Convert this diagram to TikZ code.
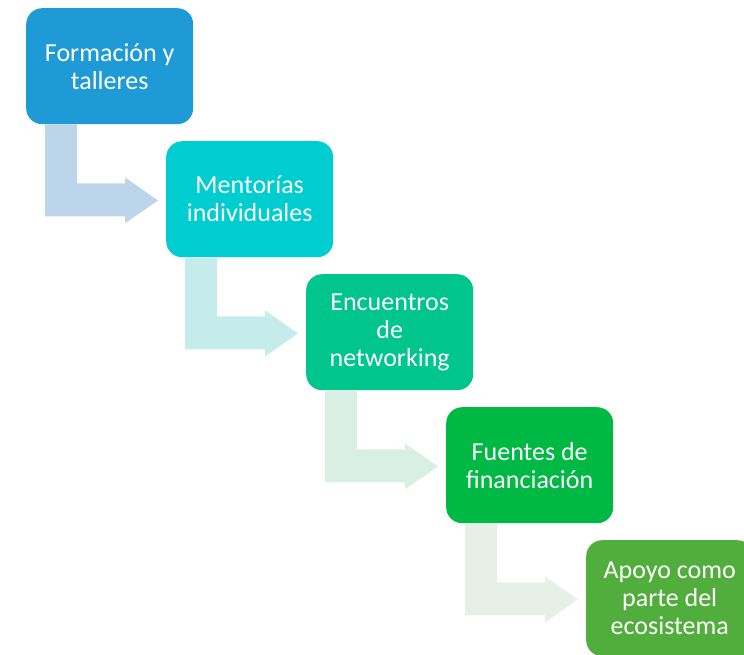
\documentclass[tikz,border=0pt]{standalone}
\usepackage{fontspec}
\setmainfont{Carlito}
\definecolor{boxA}{HTML}{1E9BD7}
\definecolor{boxB}{HTML}{00CDD0}
\definecolor{boxC}{HTML}{00C58C}
\definecolor{boxD}{HTML}{00B944}
\definecolor{boxE}{HTML}{52AE3C}
\definecolor{arrA}{HTML}{BDD5EA}
\definecolor{arrB}{HTML}{C5EBEA}
\definecolor{arrC}{HTML}{D9EFE3}
\definecolor{arrD}{HTML}{E7F0E6}
\begin{document}
\begin{tikzpicture}[x=1pt,y=-1pt,
  stage/.style={fill=#1, rounded corners=16pt, minimum width=167pt, minimum height=116pt,
    inner sep=0pt, anchor=north west, text=white, align=center,
    font=\fontsize{26}{28}\selectfont},
  bentarrow/.style={fill=#1}]
\useasboundingbox (0,0) rectangle (744,654);
\begin{scope}
\clip (0,0) rectangle (744,654);
\node[stage=boxA] (b1) at (26,8) {Formación y\\talleres};
\node[stage=boxB] (b2) at (166,141) {Mentorías\\individuales};
\node[stage=boxC] (b3) at (306,274) {Encuentros\\de\\networking};
\node[stage=boxD] (b4) at (446,407) {Fuentes de\\financiación};
\node[stage=boxE] (b5) at (586,540) {Apoyo como\\parte del\\ecosistema};
\foreach \a/\c in {b1/arrA,b2/arrB,b3/arrC,b4/arrD}{
  \fill[bentarrow=\c] ([xshift=19pt]\a.south west) -- ++(32,0) -- ++(0,59) -- ++(48,0)
    -- ++(0,-6) -- ++(33,23) -- ++(-33,23) -- ++(0,-7) -- ++(-80,0) -- cycle;
}
\end{scope}
\end{tikzpicture}
\end{document}
